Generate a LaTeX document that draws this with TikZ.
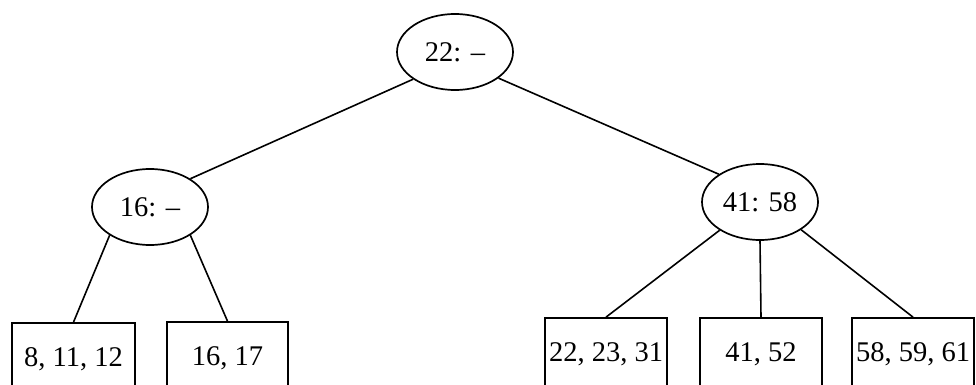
\documentclass[tikz,border=0pt]{standalone}
\usepackage{fontspec}
\setmainfont{Liberation Serif}
\usetikzlibrary{shapes.geometric}
\begin{document}
\begin{tikzpicture}[x=1pt,y=-1pt,
  inode/.style={ellipse, draw, line width=1.7pt, minimum width=116pt, minimum height=76pt, inner sep=0pt, font=\fontsize{28.5}{30}\selectfont},
  leaf/.style={rectangle, draw, line width=1.7pt, minimum width=122pt, minimum height=72pt, inner sep=0pt, font=\fontsize{28.5}{30}\selectfont},
  edge/.style={line width=1.6pt}]
\useasboundingbox (0,0) rectangle (976,385);
\clip (0,0) rectangle (976,385);
\node[inode] (r) at (455,52) {22: –};
\node[inode] (a) at (150,207) {16: –};
\node[inode] (b) at (760,202) {41: 58};
\node[leaf, minimum width=123pt] (l1) at (73.5,359) {8, 11, 12};
\node[leaf, minimum width=121pt] (l2) at (227.5,358) {16, 17};
\node[leaf] (l3) at (606,354) {22, 23, 31};
\node[leaf] (l4) at (761,354) {41, 52};
\node[leaf] (l5) at (913,354) {58, 59, 61};
\draw[edge] (r.213) -- (a.35);
\draw[edge] (r.329) -- (b.146);
\draw[edge] (a.215) -- (l1.north);
\draw[edge] (a.325) -- (l2.north);
\draw[edge] (b.215) -- (l3.north);
\draw[edge] (b.south) -- (l4.north);
\draw[edge] (b.326) -- (l5.north);
\end{tikzpicture}
\end{document}
